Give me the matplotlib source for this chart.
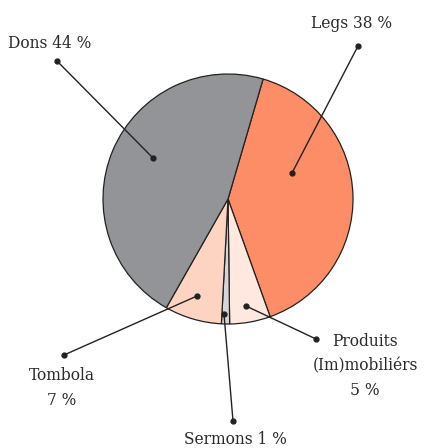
import matplotlib
matplotlib.use("Agg")
import matplotlib.pyplot as plt

# data (clockwise from the Legs/Dons boundary)
categories = ["Legs", "Produits\n(Im)mobiliérs", "Sermons", "Tombola", "Dons"]
values = [38, 5, 1, 7, 44]
label_texts = ["Legs 38 %", "Produits\n(Im)mobiliérs\n5 %", "Sermons 1 %", "Tombola\n7 %", "Dons 44 %"]
colors = ["#fd8d66", "#fee8df", "#d6d6d8", "#fdd3c2", "#939498"]

W, H = 424, 448
fig = plt.figure(figsize=(W / 100, H / 100), dpi=100)
ax = fig.add_axes([0, 0, 1, 1])

cx, cy, r = 228, H - 199, 125
ax.pie(values, colors=colors, startangle=73.7, counterclock=False,
       center=(cx, cy), radius=r, frame=True,
       wedgeprops=dict(edgecolor="#222222", linewidth=0.9))
ax.set_xlim(0, W)
ax.set_ylim(0, H)
ax.set_aspect("equal")
ax.axis("off")

# leader lines: inner point, outer point (pixel coords, y down), text anchor
inner_pts = [(292, 173), (246, 306), (224, 314), (197, 296), (153, 158)]
outer_pts = [(358, 46), (316, 339), (233, 421), (64, 355), (57, 61)]
text_pos = [(352, 23), (365, 366), (235, 439), (62, 388), (50, 43)]

for (ix, iy), (ox, oy), (tx, ty), t in zip(inner_pts, outer_pts, text_pos, label_texts):
    ax.plot([ix, ox], [H - iy, H - oy], color="#222222", lw=1.0)
    ax.plot([ix, ox], [H - iy, H - oy], "o", color="#222222", ms=3.5)
    ax.text(tx, H - ty, t, ha="center", va="center", fontsize=11.2,
            family="DejaVu Serif", color="#2a2a2a", linespacing=1.57)

fig.savefig("out.png", dpi=100)
